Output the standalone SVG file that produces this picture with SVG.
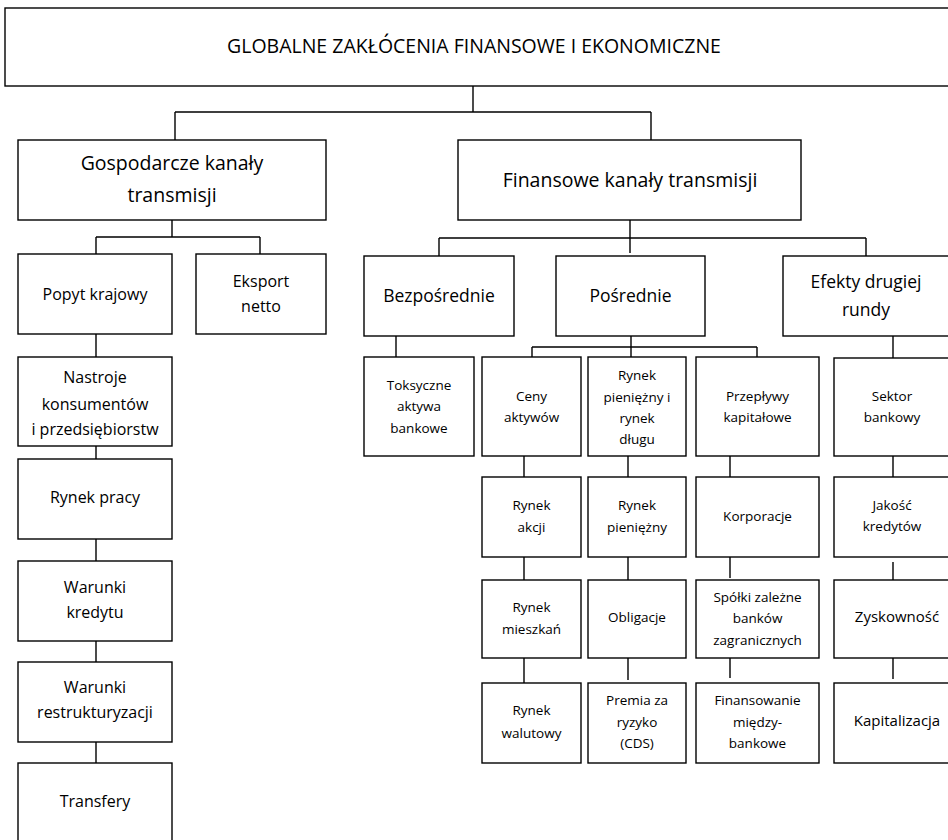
<svg xmlns="http://www.w3.org/2000/svg" width="948" height="840" viewBox="0 0 948 840">
<style>
rect{fill:#fff;stroke:#000;stroke-width:1.4}
.c path{fill:none;stroke:#000;stroke-width:1.4}
text{font-family:"Open Sans","Liberation Sans",sans-serif;fill:#000;text-anchor:middle}
.t0{font-size:19.5px}
.t1{font-size:19.5px}
.t2{font-size:17.5px}
.t3{font-size:16px}
.t4{font-size:13.5px}
.t5{font-size:15px}
</style>
<rect x="0" y="0" width="948" height="840" style="stroke:none"/>
<g class="c">
<path d="M473,86V112M175,112H651M175,112V140M651,112V140"/>
<path d="M172,220V237M96,237H260M96,237V254M260,237V254"/>
<path d="M630,220V253M439,238H866M439,238V256M866,238V256"/>
<path d="M396,336V357"/>
<path d="M631,336V357M532,347H757M532,347V357M757,347V357"/>
<path d="M893,336V358"/>
<path d="M96,334V357M96,446V459M96,539V561M96,641V662M96,742V763"/>
<path d="M524,456V477M524,557V580M524,658V683"/>
<path d="M628,456V477M628,557V580M628,658V680"/>
<path d="M730,456V477M730,557V578M730,658V678"/>
<path d="M893,456V477M893,562V582M893,658V679"/>
</g>
<g id="n-global"><rect x="5" y="8" width="960" height="78"/><text class="t0" x="474" y="53">GLOBALNE ZAKŁÓCENIA FINANSOWE I EKONOMICZNE</text></g>
<g id="n-gosp"><rect x="18" y="140" width="308" height="80"/><text class="t1" x="172" y="170">Gospodarcze kanały</text><text class="t1" x="172" y="202">transmisji</text></g>
<g id="n-fin"><rect x="458" y="140" width="343" height="80"/><text class="t1" x="630" y="187">Finansowe kanały transmisji</text></g>
<g id="n-popyt"><rect x="18" y="254" width="154" height="80"/><text class="t3" x="95" y="300">Popyt krajowy</text></g>
<g id="n-eksport"><rect x="196" y="254" width="130" height="80"/><text class="t3" x="261" y="287">Eksport</text><text class="t3" x="261" y="312">netto</text></g>
<g id="n-bezp"><rect x="364" y="256" width="150" height="80"/><text class="t2" x="439" y="302">Bezpośrednie</text></g>
<g id="n-posr"><rect x="556" y="256" width="149" height="80"/><text class="t2" x="630.5" y="302">Pośrednie</text></g>
<g id="n-efekty"><rect x="783" y="256" width="200" height="80"/><text class="t2" x="866" y="288">Efekty drugiej</text><text class="t2" x="866" y="316">rundy</text></g>
<g id="n-nastroje"><rect x="18" y="357" width="154" height="89"/><text class="t3" x="95" y="383">Nastroje</text><text class="t3" x="95" y="410">konsumentów</text><text class="t3" x="95" y="435">i przedsiębiorstw</text></g>
<g id="n-praca"><rect x="18" y="459" width="154" height="80"/><text class="t3" x="95" y="503">Rynek pracy</text></g>
<g id="n-kredyt"><rect x="18" y="561" width="154" height="80"/><text class="t3" x="95" y="593">Warunki</text><text class="t3" x="95" y="618">kredytu</text></g>
<g id="n-restr"><rect x="18" y="662" width="154" height="80"/><text class="t3" x="95" y="693">Warunki</text><text class="t3" x="95" y="718">restrukturyzacji</text></g>
<g id="n-transfery"><rect x="18" y="763" width="154" height="100"/><text class="t3" x="95" y="807">Transfery</text></g>
<g id="n-toks"><rect x="364" y="357" width="110" height="99"/><text class="t4" x="419" y="390">Toksyczne</text><text class="t4" x="419" y="411">aktywa</text><text class="t4" x="419" y="433">bankowe</text></g>
<g id="n-ceny"><rect x="482" y="357" width="99" height="99"/><text class="t4" x="531.5" y="401">Ceny</text><text class="t4" x="531.5" y="422">aktywów</text></g>
<g id="n-rpid"><rect x="588" y="357" width="98" height="99"/><text class="t4" x="637" y="380">Rynek</text><text class="t4" x="637" y="402">pieniężny i</text><text class="t4" x="637" y="423">rynek</text><text class="t4" x="637" y="444">długu</text></g>
<g id="n-przep"><rect x="696" y="357" width="123" height="99"/><text class="t4" x="757.5" y="401">Przepływy</text><text class="t4" x="757.5" y="422">kapitałowe</text></g>
<g id="n-sektor"><rect x="834" y="358" width="150" height="98"/><text class="t4" x="892" y="401">Sektor</text><text class="t4" x="892" y="422">bankowy</text></g>
<g id="n-akcji"><rect x="482" y="477" width="99" height="80"/><text class="t4" x="531.5" y="510">Rynek</text><text class="t4" x="531.5" y="532">akcji</text></g>
<g id="n-rp"><rect x="588" y="477" width="98" height="80"/><text class="t4" x="637" y="510">Rynek</text><text class="t4" x="637" y="532">pieniężny</text></g>
<g id="n-korp"><rect x="696" y="477" width="123" height="80"/><text class="t4" x="757.5" y="521">Korporacje</text></g>
<g id="n-jakosc"><rect x="834" y="477" width="150" height="80"/><text class="t4" x="892" y="510">Jakość</text><text class="t4" x="892" y="531">kredytów</text></g>
<g id="n-mieszk"><rect x="482" y="580" width="99" height="78"/><text class="t4" x="531.5" y="612">Rynek</text><text class="t4" x="531.5" y="634">mieszkań</text></g>
<g id="n-oblig"><rect x="588" y="580" width="98" height="78"/><text class="t4" x="637" y="622">Obligacje</text></g>
<g id="n-spolki"><rect x="696" y="580" width="123" height="78"/><text class="t4" x="757.5" y="602">Spółki zależne</text><text class="t4" x="757.5" y="623">banków</text><text class="t4" x="757.5" y="645">zagranicznych</text></g>
<g id="n-zysk"><rect x="834" y="580" width="150" height="78"/><text class="t5" x="897" y="622">Zyskowność</text></g>
<g id="n-walut"><rect x="482" y="683" width="99" height="80"/><text class="t4" x="531.5" y="715">Rynek</text><text class="t4" x="531.5" y="738">walutowy</text></g>
<g id="n-premia"><rect x="588" y="683" width="98" height="80"/><text class="t4" x="637" y="705">Premia za</text><text class="t4" x="637" y="727">ryzyko</text><text class="t4" x="637" y="748">(CDS)</text></g>
<g id="n-finmb"><rect x="696" y="683" width="123" height="80"/><text class="t4" x="757.5" y="705">Finansowanie</text><text class="t4" x="757.5" y="727">między-</text><text class="t4" x="757.5" y="748">bankowe</text></g>
<g id="n-kapit"><rect x="834" y="683" width="150" height="80"/><text class="t5" x="897" y="726">Kapitalizacja</text></g>
</svg>
